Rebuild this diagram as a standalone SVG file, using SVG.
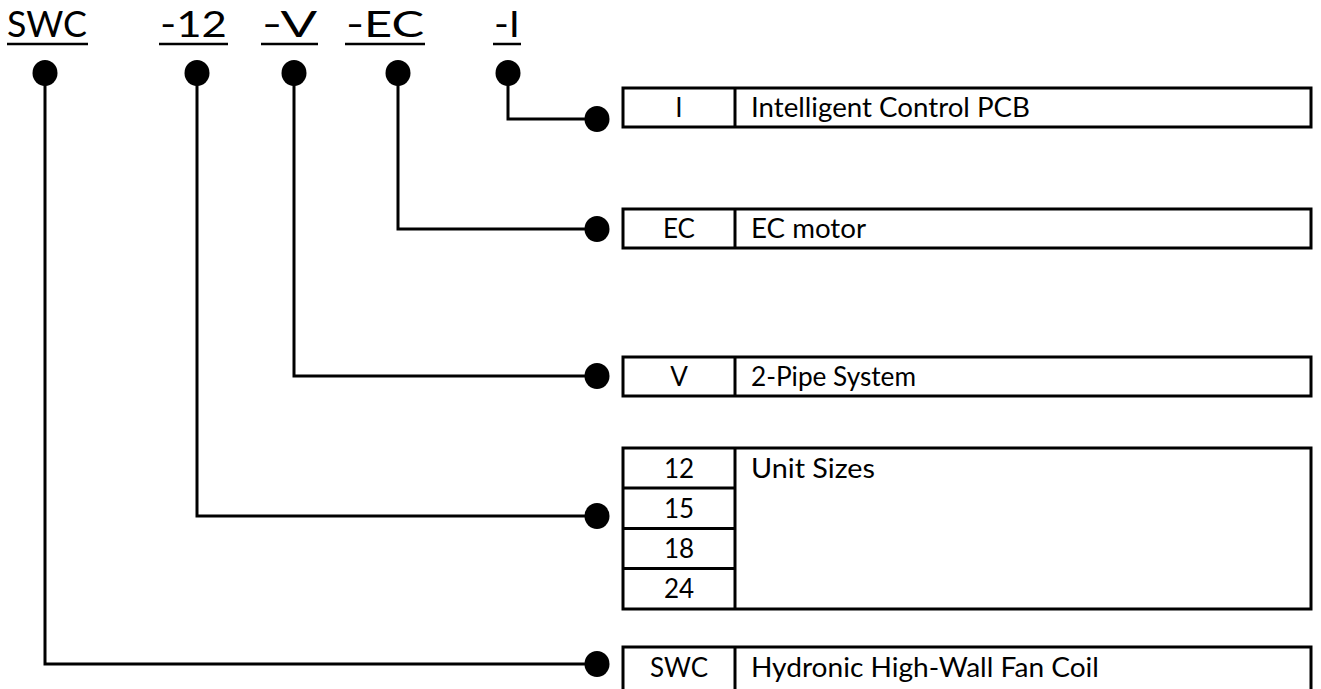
<svg xmlns="http://www.w3.org/2000/svg" width="1321" height="689" viewBox="0 0 1321 689">
  <style>
    .t { font-family: Lato, "Open Sans", sans-serif; fill: #000; font-weight: 400; }
    .top { font-size: 37px; }
    .cell { font-size: 26px; }
    .c { text-anchor: middle; }
    .box { fill: #fff; stroke: #000; stroke-width: 3; }
    .ul { stroke: #000; stroke-width: 2.5; }
    .wire { fill: none; stroke: #000; stroke-width: 3; }
    .dot { fill: #000; }
  </style>
  <rect width="1321" height="689" fill="#fff"/>

  <g id="code">
    <text class="t top" x="7" y="37" textLength="80" lengthAdjust="spacingAndGlyphs">SWC</text>
    <line class="ul" x1="7" y1="44" x2="88" y2="44"/>
    <text class="t top" x="160" y="37" textLength="67" lengthAdjust="spacingAndGlyphs">-12</text>
    <line class="ul" x1="159" y1="44" x2="228" y2="44"/>
    <text class="t top" x="262" y="37" textLength="55" lengthAdjust="spacingAndGlyphs">-V</text>
    <line class="ul" x1="261" y1="44" x2="318" y2="44"/>
    <text class="t top" x="346" y="37" textLength="78" lengthAdjust="spacingAndGlyphs">-EC</text>
    <line class="ul" x1="345" y1="44" x2="425" y2="44"/>
    <text class="t top" x="494" y="37" textLength="26" lengthAdjust="spacingAndGlyphs">-I</text>
    <line class="ul" x1="493" y1="44" x2="521" y2="44"/>
  </g>

  <g id="connectors">
    <polyline class="wire" points="45,73 45,664 597,664"/>
    <polyline class="wire" points="197,73 197,516 597,516"/>
    <polyline class="wire" points="294,73 294,376 597,376"/>
    <polyline class="wire" points="398,73 398,229 597,229"/>
    <polyline class="wire" points="508,73 508,119 597,119"/>
    <ellipse class="dot" cx="45" cy="73" rx="12.5" ry="13"/>
    <ellipse class="dot" cx="197" cy="73" rx="12.5" ry="13"/>
    <ellipse class="dot" cx="294" cy="73" rx="12.5" ry="13"/>
    <ellipse class="dot" cx="398" cy="73" rx="12.5" ry="13"/>
    <ellipse class="dot" cx="508" cy="73" rx="12.5" ry="13"/>
    <ellipse class="dot" cx="597" cy="119" rx="12.5" ry="13"/>
    <ellipse class="dot" cx="597" cy="229" rx="12.5" ry="13"/>
    <ellipse class="dot" cx="597" cy="376" rx="12.5" ry="13"/>
    <ellipse class="dot" cx="597" cy="516" rx="12.5" ry="13"/>
    <ellipse class="dot" cx="597" cy="664" rx="12.5" ry="13"/>
  </g>

  <g id="opt-I">
    <rect class="box" x="623" y="88" width="688" height="39"/>
    <line class="wire" x1="735" y1="88" x2="735" y2="127"/>
    <text class="t cell c" x="679" y="117">I</text>
    <text class="t cell" x="751" y="117" textLength="279" lengthAdjust="spacingAndGlyphs">Intelligent Control PCB</text>
  </g>

  <g id="opt-EC">
    <rect class="box" x="623" y="209" width="688" height="39"/>
    <line class="wire" x1="735" y1="209" x2="735" y2="248"/>
    <text class="t cell c" x="679" y="238">EC</text>
    <text class="t cell" x="751" y="238" textLength="115" lengthAdjust="spacingAndGlyphs">EC motor</text>
  </g>

  <g id="opt-V">
    <rect class="box" x="623" y="357" width="688" height="39"/>
    <line class="wire" x1="735" y1="357" x2="735" y2="396"/>
    <text class="t cell c" x="679" y="386">V</text>
    <text class="t cell" x="751" y="386" textLength="165" lengthAdjust="spacingAndGlyphs">2-Pipe System</text>
  </g>

  <g id="opt-sizes">
    <rect class="box" x="623" y="448" width="688" height="161"/>
    <line class="wire" x1="735" y1="448" x2="735" y2="609"/>
    <line class="wire" x1="623" y1="488" x2="735" y2="488"/>
    <line class="wire" x1="623" y1="528.5" x2="735" y2="528.5"/>
    <line class="wire" x1="623" y1="568.5" x2="735" y2="568.5"/>
    <text class="t cell c" x="679" y="478">12</text>
    <text class="t cell c" x="679" y="518">15</text>
    <text class="t cell c" x="679" y="558">18</text>
    <text class="t cell c" x="679" y="598">24</text>
    <text class="t cell" x="751" y="478" textLength="124" lengthAdjust="spacingAndGlyphs">Unit Sizes</text>
  </g>

  <g id="opt-SWC">
    <rect class="box" x="623" y="647" width="688" height="48"/>
    <line class="wire" x1="735" y1="647" x2="735" y2="689"/>
    <text class="t cell c" x="679" y="677">SWC</text>
    <text class="t cell" x="751" y="677" textLength="348" lengthAdjust="spacingAndGlyphs">Hydronic High-Wall Fan Coil</text>
  </g>
</svg>
